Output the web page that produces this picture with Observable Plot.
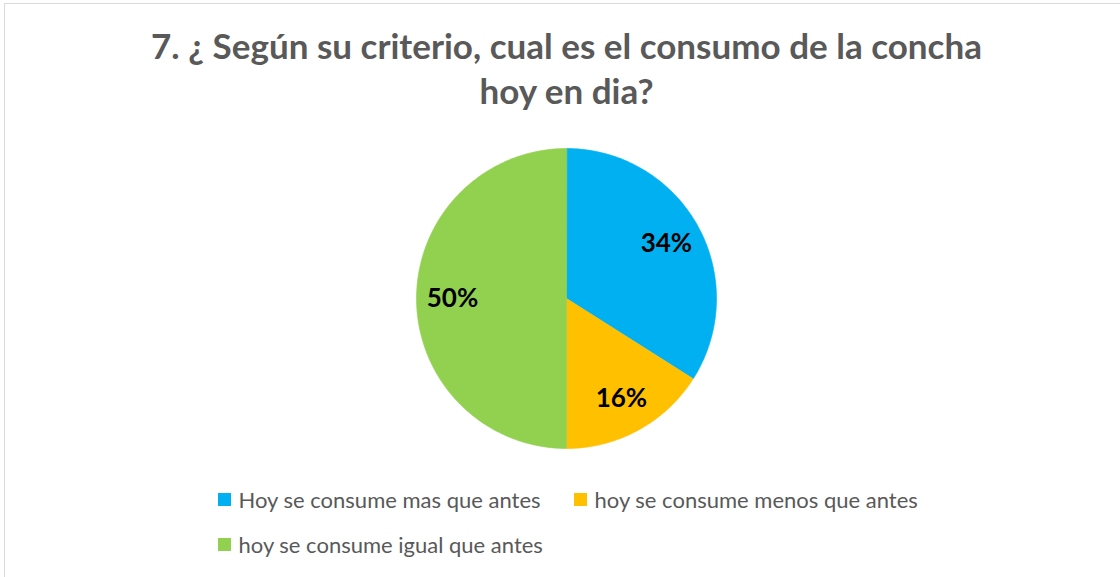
<!DOCTYPE html>
<html><head><meta charset="utf-8">
<script src="https://cdn.jsdelivr.net/npm/d3@7"></script>
<script src="https://cdn.jsdelivr.net/npm/@observablehq/plot@0.6"></script>
<style>
html,body{margin:0;padding:0;background:#fff;overflow:hidden;}
#frame{position:absolute;left:4px;top:3px;width:1300px;height:800px;border:1.5px solid #d9d9d9;box-sizing:border-box;}
#chart{position:absolute;left:0;top:0;}
</style></head><body>
<div id="frame"></div>
<div id="chart"></div>
<script>
// ---- data ----
const titleLines = ["7. ¿ Según su criterio, cual es el consumo de la concha", "hoy en dia?"];
const categories = ["Hoy se consume mas que antes", "hoy se consume menos que antes", "hoy se consume igual que antes"];
const values = [34, 16, 50];
const valueLabels = ["34%", "16%", "50%"];
const colors = ["#00b0f0", "#ffc000", "#92d050"];

// ---- layout ----
const W = 1120, H = 577;
const cx = 566, cy = 298, R = 150;
const FONT = "Lato, 'Open Sans', sans-serif";

const arcs = d3.pie().sort(null).value(d => d)(values);

// sector polygons from pie angles
const slicePts = arcs.map((a, i) => {
  const pts = [{x: cx, y: cy}];
  const n = Math.max(2, Math.ceil((a.endAngle - a.startAngle) / (Math.PI * 2) * 360));
  for (let k = 0; k <= n; k++) {
    const t = a.startAngle + (a.endAngle - a.startAngle) * k / n;
    pts.push({x: cx + R * Math.sin(t), y: cy - R * Math.cos(t)});
  }
  return pts;
});

const labelR = R * 0.76;
const labelData = arcs.map((a, i) => {
  const m = (a.startAngle + a.endAngle) / 2;
  return {text: valueLabels[i], x: cx + labelR * Math.sin(m), y: cy - labelR * Math.cos(m)};
});

const legendLayout = [
  {x: 218, y: 507},
  {x: 574, y: 507},
  {x: 218, y: 552}
];
const legendData = categories.map((c, i) => ({name: c, color: colors[i], ...legendLayout[i]}));

const sw = 13;

const marks = [];
slicePts.forEach((pts, i) => {
  marks.push(Plot.line(pts, {x: "x", y: "y", fill: colors[i], stroke: colors[i], strokeWidth: 0.6, curve: "linear-closed"}));
});
marks.push(
  Plot.text(labelData, {x: "x", y: "y", text: "text", fontSize: 26, fontWeight: "bold", fill: "#000", textAnchor: "middle", lineAnchor: "middle"}),
  Plot.text(titleLines, {x: () => cx, y: (d, i) => [58, 103][i], text: d => d, fontSize: 35, fontWeight: "bold", fill: "#595959", textAnchor: "middle", lineAnchor: "bottom"}),
  Plot.rect(legendData, {x1: d => d.x, x2: d => d.x + sw, y1: d => d.y - 14, y2: d => d.y - 14 + sw, fill: "color"}),
  Plot.text(legendData, {x: d => d.x + 20, y: "y", text: "name", fontSize: 22, fill: "#595959", textAnchor: "start", lineAnchor: "bottom"})
);

const chart = Plot.plot({
  width: W, height: H,
  margin: 0,
  x: {type: "identity", axis: null},
  y: {type: "identity", axis: null},
  color: {type: "identity"},
  style: {fontFamily: FONT, background: "transparent", overflow: "visible"},
  marks
});
document.getElementById("chart").appendChild(chart);
</script>
</body></html>
